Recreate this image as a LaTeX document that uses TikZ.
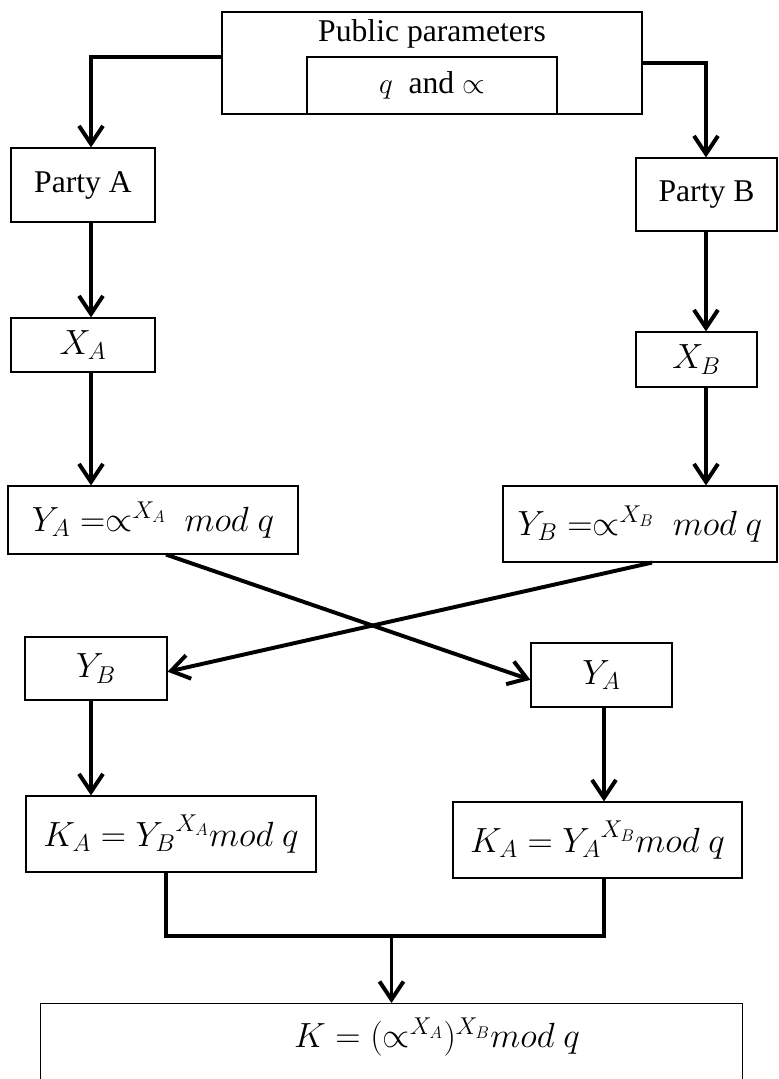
\documentclass[tikz,border=0pt]{standalone}
\usepackage{fontspec}
\setmainfont{Liberation Serif}
\usepackage{amsmath}
\usepackage{tikz}
\usetikzlibrary{arrows.meta}

\begin{document}
\begin{tikzpicture}[x=0.025cm, y=-0.025cm, >={Straight Barb[length=4.5mm,width=6mm]}, every node/.style={font=\fontsize{22.5}{27}\selectfont}]
\tikzstyle{block}=[rectangle, draw, line width=0.8pt, inner sep=0pt, align=center]
\tikzstyle{eq}=[font=\fontsize{25}{30}\selectfont]
\tikzstyle{link}=[line width=2.8pt]
\useasboundingbox (0,0) rectangle (778,1079);
% top box with parameters
\node[block, minimum width=10.5cm, minimum height=2.55cm] (pub) at (432,63) {};
\node (pubtext) at (432,34) {Public parameters};
\node[block, minimum width=6.25cm, minimum height=1.425cm] (params) at (432,85.5) {$q$ \ and $\propto$};
% the two parties
\node[block, minimum width=3.6cm, minimum height=1.85cm] (partyA) at (83,185) {Party A};
\node[block, minimum width=3.525cm, minimum height=1.825cm] (partyB) at (706.5,194.5) {Party B};
\node[block, eq, minimum width=3.6cm, minimum height=1.35cm] (xa) at (83,345) {$X_A$};
\node[block, eq, minimum width=3.025cm, minimum height=1.375cm] (xb) at (696.5,359.5) {$X_B$};
\node[block, eq, minimum width=7.25cm, minimum height=1.7cm] (ya) at (153,520) {$Y_A =\propto^{X_A}\ mod\ q$};
\node[block, eq, minimum width=6.85cm, minimum height=1.9cm] (yb) at (640,524) {$Y_B =\propto^{X_B}\ mod\ q$};
% exchanged values
\node[block, eq, minimum width=3.55cm, minimum height=1.575cm] (ybl) at (96,668.5) {$Y_B$};
\node[block, eq, minimum width=3.525cm, minimum height=1.6cm] (yar) at (601.5,675) {$Y_A$};
\node[block, eq, minimum width=7.25cm, minimum height=1.9cm] (ka) at (171,834) {$K_A = {Y_B}^{X_A}mod\ q$};
\node[block, eq, minimum width=7.225cm, minimum height=1.9cm] (kb) at (597.5,840) {$K_A = {Y_A}^{X_B}mod\ q$};
% shared key
\node[block, minimum width=17.525cm, minimum height=2.75cm, anchor=north] (key) at (391.5,1003) {};
\node[eq] (keytext) at (437,1037) {$K = (\propto^{X_A})^{X_B}mod\ q$};
\coordinate (colA) at (91,0);
\coordinate (colB) at (706,0);
\coordinate (colC) at (604,0);
\coordinate (crossA) at (166,0);
\coordinate (crossB) at (652,0);
\coordinate (join) at (391.5,936);
\draw[link, ->] ([yshift=0.15cm]pub.west) -| (partyA.north -| colA);
\draw[link, ->] (pub.east) -| (partyB.north -| colB);
\draw[link, ->] (partyA.south -| colA) -- (xa.north -| colA);
\draw[link, ->] (partyB.south -| colB) -- (xb.north -| colB);
\draw[link, ->] (xa.south -| colA) -- (ya.north -| colA);
\draw[link, ->] (xb.south -| colB) -- (yb.north -| colB);
\draw[link, ->] (ya.south -| crossA) -- ([yshift=-0.12cm]yar.west);
\draw[link, ->] (yb.south -| crossB) -- ([yshift=-0.08cm]ybl.east);
\draw[link, ->] (ybl.south -| colA) -- (ka.north -| colA);
\draw[link, ->] (yar.south -| colC) -- (kb.north -| colC);
\draw[link] (ka.south -| crossA) |- (join) -| (kb.south -| colC);
\draw[link, ->] (join) -- (key.north);
\end{tikzpicture}
\end{document}
